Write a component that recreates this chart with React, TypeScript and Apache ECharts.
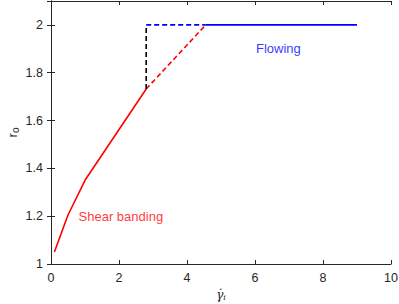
import React, { useEffect, useRef } from "react";
import * as echarts from "echarts";

const shearSolid: [number, number][] = [[0.1, 1.05], [0.5, 1.205], [1.0, 1.35], [2.8, 1.732]];
const shearDashed: [number, number][] = [[2.8, 1.732], [4.55, 2.0]];
const jumpDashed: [number, number][] = [[2.8, 1.732], [2.8, 2.0]];
const flowDashed: [number, number][] = [[2.8, 2.0], [4.55, 2.0]];
const flowSolid: [number, number][] = [[4.55, 2.0], [9.0, 2.0]];
const labels: { text: string; at: [number, number]; color: string }[] = [
  { text: "Flowing", at: [6.03, 1.9], color: "#0000ff" },
  { text: "Shear banding", at: [0.81, 1.197], color: "#ff0000" },
];
const yTicks = [1, 1.2, 1.4, 1.6, 1.8, 2];

const FONT = "Liberation Sans, Arial, sans-serif";
const AX = "#262626";

export default function App() {
  const ref = useRef<HTMLDivElement>(null);
  useEffect(() => {
    const chart = echarts.init(ref.current!, undefined, { renderer: "svg" });
    const axisLine = { show: true, lineStyle: { color: AX, width: 1 } };
    const axisTick = { show: true, inside: true, length: 4, lineStyle: { color: AX } };
    const line = (data: [number, number][], color: string, dashed: boolean) => ({
      type: "line",
      data,
      showSymbol: false,
      symbol: "none",
      lineStyle: { color, width: 1.6, type: dashed ? [5, 3] : "solid" },
      z: 2,
    });
    chart.setOption({
      animation: false,
      textStyle: { fontFamily: FONT },
      grid: { left: 51, right: 8, top: 1, bottom: 40, containLabel: false, outerBoundsMode: "none" },
      xAxis: [
        {
          type: "value",
          min: 0,
          max: 10,
          interval: 2,
          position: "bottom",
          axisLine,
          axisTick,
          splitLine: { show: false },
          axisLabel: { color: AX, fontSize: 12.5, margin: 7, fontFamily: FONT },
          name: "{g|γ̇}{s|i}",
          nameLocation: "middle",
          nameGap: 22,
          nameTextStyle: {
            fontFamily: "DejaVu Serif, serif",
            rich: {
              g: { fontFamily: "DejaVu Serif, serif", fontStyle: "italic", fontSize: 12, color: AX },
              s: { fontFamily: "DejaVu Serif, serif", fontStyle: "italic", fontSize: 8, color: AX, padding: [5, 0, 0, 0] },
            },
          },
        },
        {
          type: "value",
          min: 0,
          max: 10,
          interval: 2,
          position: "top",
          axisLine,
          axisTick,
          splitLine: { show: false },
          axisLabel: { show: false },
        },
      ],
      yAxis: [
        {
          type: "value",
          min: 1,
          max: 2.1,
          interval: 0.2,
          position: "left",
          axisLine,
          axisTick,
          splitLine: { show: false },
          axisLabel: {
            color: AX,
            fontSize: 12.5,
            margin: 8,
            fontFamily: FONT,
            showMaxLabel: false,
            formatter: (v: number) => (yTicks.some((t) => Math.abs(t - v) < 1e-6) ? String(Math.round(v * 10) / 10) : ""),
          },
          name: "{r|r}{s|o}",
          nameLocation: "middle",
          nameGap: 31,
          nameMoveOverlap: false,
          nameTextStyle: {
            fontFamily: FONT,
            fontSize: 13,
            color: AX,
            rich: {
              r: { fontSize: 13, color: AX, fontFamily: FONT },
              s: { fontSize: 10, color: AX, fontFamily: FONT, padding: [6, 0, 0, 0] },
            },
          },
        },
        {
          type: "value",
          min: 1,
          max: 2.1,
          interval: 0.2,
          position: "right",
          axisLine,
          axisTick,
          splitLine: { show: false },
          axisLabel: { show: false },
        },
      ],
      series: [
        line(shearSolid, "#ff0000", false),
        line(shearDashed, "#ff0000", true),
        line(jumpDashed, "#000000", true),
        line(flowDashed, "#0000ff", true),
        line(flowSolid, "#0000ff", false),
        {
          type: "scatter",
          symbolSize: 0,
          data: labels.map((l) => ({
            value: l.at,
            label: {
              show: true,
              position: "right",
              distance: 0,
              formatter: l.text,
              color: l.color,
              fontSize: 13,
              fontFamily: FONT,
            },
          })),
          silent: true,
        },
      ],
    });
    return () => chart.dispose();
  }, []);
  return <div ref={ref} style={{ width: 399, height: 304, position: "absolute", left: 0, top: 0, background: "#fff" }} />;
}
